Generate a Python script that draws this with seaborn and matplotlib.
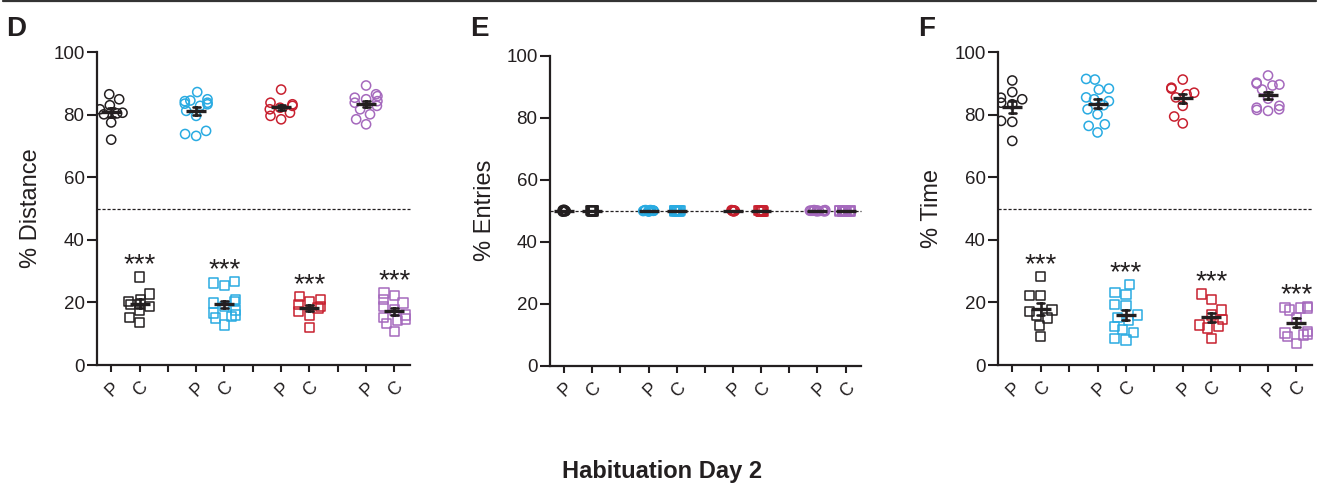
import numpy as np
import pandas as pd
import matplotlib
matplotlib.use("Agg")
import matplotlib.pyplot as plt
import seaborn as sns
from matplotlib.collections import PathCollection
from matplotlib.lines import Line2D

sns.set_theme(style="ticks")
plt.rcParams['font.family'] = ['Liberation Sans', 'DejaVu Sans']

# ---------------- data ----------------
groups = ["G1", "G2", "G3", "G4"]
group_colors = ["#231F20", "#29ABE2", "#C8202F", "#A569BD"]
tick_labels = ["P", "C", "", "P", "C", "", "P", "C", "", "P", "C"]
panel_letters = ["D", "E", "F"]
y_labels = ["% Distance", "% Entries", "% Time"]
fig_title = "Habituation Day 2"
star_text = "***"

# Panel D: % Distance
dist_P = [
    [84.9, 86.5, 83.0, 81.7, 80.6, 80.4, 80.1, 77.5, 72.0],
    [87.2, 84.9, 84.5, 84.3, 83.8, 83.5, 83.3, 82.8, 81.2, 79.6, 74.8, 73.8, 73.2],
    [88.0, 83.8, 83.3, 82.8, 82.2, 81.7, 80.6, 79.6, 78.5],
    [89.3, 86.5, 85.9, 85.4, 84.9, 84.3, 83.8, 82.8, 81.7, 80.1, 78.5, 76.9],
]
dist_C = [
    [28.1, 22.7, 20.9, 20.3, 19.3, 18.7, 17.4, 15.3, 13.6],
    [26.7, 26.2, 25.3, 20.9, 20.3, 19.8, 18.7, 17.6, 16.6, 16.0, 15.5, 15.0, 12.8],
    [21.9, 20.9, 20.3, 19.3, 18.8, 18.2, 17.1, 16.0, 12.1],
    [23.0, 22.1, 20.9, 19.8, 18.7, 17.6, 16.0, 15.3, 14.7, 14.2, 13.2, 10.7],
]

# Panel E: % Entries
entries_P = [
    [50.2, 49.8, 50.0, 50.1, 49.9, 50.0, 50.3, 49.7, 50.0],
    [50.0, 49.9, 50.1, 50.0, 50.2, 49.8, 50.0, 50.1, 49.9, 50.0, 50.2, 49.8, 50.0],
    [50.0, 50.1, 49.9, 50.0, 50.2, 49.8, 50.0, 50.1, 49.9],
    [50.0, 50.1, 49.9, 50.0, 50.2, 49.8, 50.0, 50.1, 49.9, 50.0, 50.2, 49.8],
]
entries_C = [
    [50.0, 50.1, 49.9, 50.0, 50.2, 49.8, 50.0, 50.1, 49.9],
    [50.0, 50.2, 49.8, 50.0, 50.1, 49.9, 50.0, 50.2, 49.8, 50.0, 50.1, 49.9, 50.0],
    [49.8, 49.9, 50.0, 50.1, 49.7, 49.9, 50.0, 49.8, 50.1],
    [49.8, 49.9, 50.0, 49.7, 49.8, 50.0, 49.9, 49.8, 49.7, 50.0, 49.9, 49.8],
]

# Panel F: % Time
time_P = [
    [90.9, 87.2, 85.4, 84.9, 83.8, 83.3, 78.0, 77.7, 71.6],
    [91.4, 91.2, 88.3, 88.0, 85.5, 84.9, 84.3, 83.0, 81.7, 80.1, 76.9, 76.4, 74.3],
    [91.2, 88.6, 88.3, 87.0, 86.5, 85.5, 82.8, 79.4, 77.2],
    [92.5, 90.2, 89.9, 89.6, 89.3, 88.0, 85.1, 82.8, 82.2, 81.7, 81.5, 81.2],
]
time_C = [
    [28.3, 22.1, 22.1, 17.6, 17.1, 16.0, 15.0, 12.5, 9.1],
    [25.7, 23.2, 22.5, 19.3, 18.9, 16.0, 15.3, 14.4, 12.3, 11.4, 10.5, 8.6, 8.0],
    [22.7, 20.9, 17.6, 16.0, 14.5, 12.8, 12.3, 11.8, 8.6],
    [18.7, 18.5, 18.2, 18.2, 17.6, 15.0, 10.7, 10.2, 9.9, 9.6, 9.1, 7.0],
]

panels = [(dist_P, dist_C, True), (entries_P, entries_C, False), (time_P, time_C, True)]

# ---------------- helpers ----------------
order = [str(k) for k in range(len(tick_labels))]


def make_df(vals, offset):
    rows = []
    for gi, (g, v) in enumerate(zip(groups, vals)):
        for x in v:
            rows.append({"slot": str(3 * gi + offset), "value": x, "group": g})
    return pd.DataFrame(rows)


def hollow(ax, lw=1.0):
    for coll in ax.collections:
        if isinstance(coll, PathCollection):
            fc = coll.get_facecolors()
            if len(fc) and not getattr(coll, "_hollowed", False):
                coll.set_edgecolors(fc)
                coll.set_facecolors("none")
                coll.set_linewidths(lw)
                coll._hollowed = True


ink = "#231F20"
fig = plt.figure(figsize=(13.2, 4.87), dpi=100)
x_lo, x_axis_hi, x_view_hi = -0.5, 10.55, 10.95
stretch = (x_view_hi - x_lo) / (x_axis_hi - x_lo)
axes_rects = [
    [0.0735, 0.2505, 0.2371 * stretch, 0.6427],
    [0.4167, 0.2490, 0.2356 * stretch, 0.6366],
    [0.7561, 0.2505, 0.2379 * stretch, 0.6427],
]
e_jitter = [0.06, 0.2, 0.08, 0.3]
np.random.seed(7)
msize = 6.6

for pi, ((pv, cv, swarm), rect) in enumerate(zip(panels, axes_rects)):
    ax = fig.add_axes(rect)
    dfP = make_df(pv, 0)
    dfC = make_df(cv, 1)
    ax.plot([x_lo, x_axis_hi], [50, 50], color=ink, lw=0.9, ls=(0, (2.5, 1.5)),
            zorder=1)
    if swarm:
        sns.swarmplot(data=dfP, x="slot", y="value", order=order, hue="group",
                      hue_order=groups, palette=group_colors, marker="o", size=msize,
                      linewidth=1, legend=False, ax=ax, zorder=3)
        sns.swarmplot(data=dfC, x="slot", y="value", order=order, hue="group",
                      hue_order=groups, palette=group_colors, marker="s", size=msize,
                      linewidth=1, legend=False, ax=ax, zorder=3)
    else:
        for gi, g in enumerate(groups):
            for df, mk in ((dfP, "o"), (dfC, "s")):
                sub = df[df["group"] == g]
                sns.stripplot(data=sub, x="slot", y="value", order=order,
                              color=group_colors[gi], marker=mk, size=msize,
                              jitter=e_jitter[gi], linewidth=1, ax=ax, zorder=3)
    hollow(ax, 1.1)
    dfall = pd.concat([dfP, dfC], ignore_index=True)
    sns.pointplot(data=dfall, x="slot", y="value", order=order, errorbar="se",
                  color=ink, linestyle="none", marker="_", markersize=14,
                  markeredgewidth=2.4, capsize=0.25, err_kws={"linewidth": 1.9},
                  ax=ax, zorder=5)
    if swarm:
        for gi, v in enumerate(cv):
            ax.text(3 * gi + 1, max(v) + 1.5, star_text, ha="center", va="baseline",
                    fontsize=20, color=ink)

    ax.set_xlim(x_lo, x_view_hi)
    ax.set_ylim(0, 100)
    ax.set_yticks(range(0, 101, 20))
    ax.set_xticks(range(len(tick_labels)))
    ax.set_xticklabels(tick_labels, rotation=45, ha="right", va="top",
                       rotation_mode="anchor", fontsize=13, color=ink)
    ax.set_xlabel("")
    ax.set_ylabel(y_labels[pi], fontsize=17, color=ink)
    ax.yaxis.set_label_coords(-0.175 / stretch, 0.5)
    for s in ("top", "right"):
        ax.spines[s].set_visible(False)
    for s in ("left", "bottom"):
        ax.spines[s].set_linewidth(1.6)
        ax.spines[s].set_color(ink)
    ax.spines["bottom"].set_bounds(x_lo, x_axis_hi)
    ax.tick_params(axis="y", length=7, width=1.5, labelsize=13.5, colors=ink, pad=2)
    ax.tick_params(axis="x", length=5, width=1.5, colors=ink, pad=5)
    ax.set_facecolor("none")
    ax.grid(False)

letter_x = [6, 470, 918]
for lx, letter in zip(letter_x, panel_letters):
    fig.text(lx / 1320, 1 - 36.5 / 487, letter, fontsize=20, fontweight="bold",
             ha="left", va="baseline", color=ink)

fig.text(662 / 1320, 1 - 478 / 487, fig_title, fontsize=17, fontweight="bold",
         ha="center", va="baseline", color=ink)
fig.add_artist(Line2D([0.002, 0.997], [1 - 1 / 487, 1 - 1 / 487],
                      transform=fig.transFigure, color="#333333", lw=1.6))

fig.savefig("out.png", dpi=100)
